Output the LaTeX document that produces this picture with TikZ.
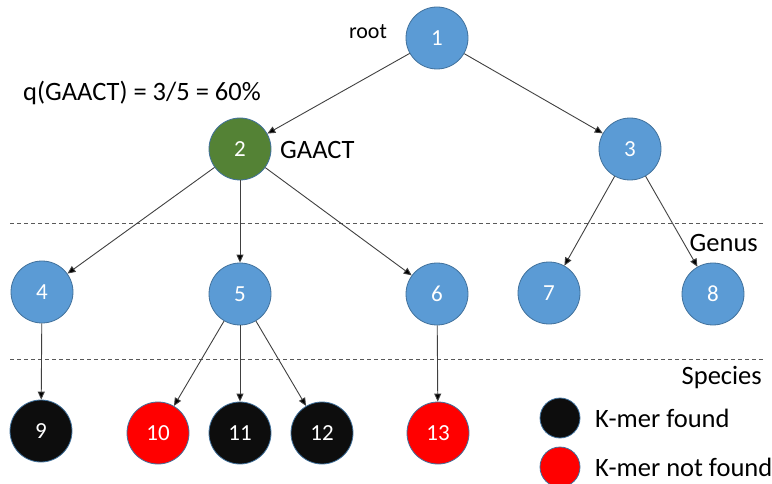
\documentclass[tikz,border=0pt]{standalone}
\usepackage{fontspec}
\setmainfont{Carlito}
\usetikzlibrary{arrows.meta}
\definecolor{nblue}{HTML}{5B9BD5}
\definecolor{nborder}{HTML}{41719C}
\definecolor{ngreen}{HTML}{548235}
\definecolor{nblack}{HTML}{0D0D0D}
\definecolor{nred}{HTML}{FF0000}
\definecolor{edgec}{HTML}{404040}
\definecolor{dashc}{HTML}{595959}
\tikzset{
  tnode/.style={circle, minimum size=62pt, inner sep=0pt, draw=nborder, line width=0.8pt,
    text=white, font=\fontsize{23}{27}\selectfont},
  bluen/.style={tnode, fill=nblue},
  greenn/.style={tnode, fill=ngreen},
  blackn/.style={tnode, fill=nblack},
  redn/.style={tnode, fill=nred},
  legc/.style={circle, minimum size=40pt, inner sep=0pt, draw=nborder, line width=0.8pt},
  lbl/.style={font=\fontsize{26.5}{30}\selectfont, text=black, inner sep=0pt},
  edge/.style={draw=edgec, line width=0.9pt, -{Triangle[length=8pt,width=7pt,fill=black]}},
  sep/.style={draw=dashc, line width=1pt, dash pattern=on 4pt off 3pt},
}
\begin{document}
\begin{tikzpicture}[x=1pt,y=-1pt]
\useasboundingbox (0,0) rectangle (772,484);
% separators
\coordinate (s1a) at (10,224); \coordinate (s1b) at (763,224);
\coordinate (s2a) at (10,359); \coordinate (s2b) at (763,359);
\draw[sep] (s1a) -- (s1b);
\draw[sep] (s2a) -- (s2b);
% nodes
\node[bluen] (n1) at (437,38) {1};
\node[greenn] (n2) at (240,149) {2};
\node[bluen] (n3) at (630,149) {3};
\node[bluen] (n4) at (42,292) {4};
\node[bluen] (n5) at (240,294) {5};
\node[bluen] (n6) at (437,294) {6};
\node[bluen] (n7) at (549,293) {7};
\node[bluen] (n8) at (713,294) {8};
\node[blackn] (n9) at (41,431) {9};
\node[redn] (n10) at (158,433) {10};
\node[blackn] (n11) at (240,433) {11};
\node[blackn] (n12) at (322,433) {12};
\node[redn] (n13) at (438,433) {13};
% edges
\draw[edge] (n1) -- (n2);
\draw[edge] (n1) -- (n3);
\draw[edge] (n2) -- (n4);
\draw[edge] (n2) -- (n5);
\draw[edge] (n2) -- (n6);
\draw[edge] (n3) -- (n7);
\draw[edge] (n3) -- (n8);
\draw[edge] (n4) -- (n9);
\draw[edge] (n5) -- (n10);
\draw[edge] (n5) -- (n11);
\draw[edge] (n5) -- (n12);
\draw[edge] (n6) -- (n13);
% labels
\node[lbl, font=\fontsize{22}{26}\selectfont] (root) at (368,32) {root};
\node[lbl, anchor=west] (q) at (23,93) {q(GAACT) = 3/5 = 60\%};
\node[lbl, anchor=west] (g) at (280,150) {GAACT};
\node[lbl, anchor=east] (genus) at (758,243) {Genus};
\node[lbl, anchor=east] (species) at (762,378) {Species};
% legend
\node[legc, fill=nblack] (lb) at (560,418) {};
\node[legc, fill=nred] (lr) at (560,467) {};
\node[lbl, anchor=west] (lbt) at (595,418) {K-mer found};
\node[lbl, anchor=west] (lrt) at (595,467) {K-mer not found};
\end{tikzpicture}
\end{document}
